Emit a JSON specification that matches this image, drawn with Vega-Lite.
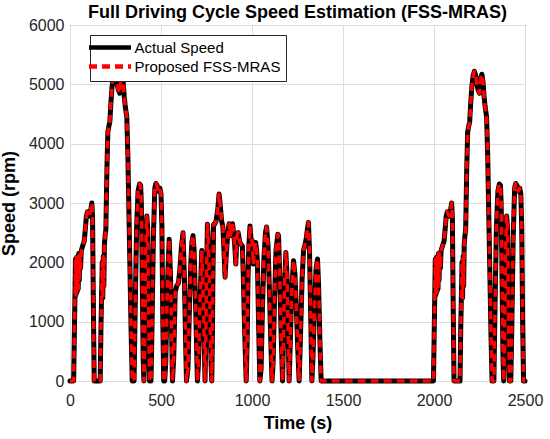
{
  "$schema": "https://vega.github.io/schema/vega-lite/v6.json",
  "width": 455,
  "height": 356,
  "autosize": "none",
  "padding": {"left": 70, "top": 25, "right": 25, "bottom": 58},
  "title": {
    "text": "Full Driving Cycle Speed Estimation (FSS-MRAS)",
    "fontSize": 18, "fontWeight": "bold", "color": "#000000",
    "anchor": "middle", "frame": "group", "offset": 5, "dy": 10
  },
  "data": {"values": [
    {"time": 0, "speed": 0}, {"time": 20, "speed": 0}, {"time": 24, "speed": 800}, {"time": 27, "speed": 1400},
    {"time": 30, "speed": 2050}, {"time": 33, "speed": 1450}, {"time": 36, "speed": 2080}, {"time": 39, "speed": 1500},
    {"time": 42, "speed": 2100}, {"time": 45, "speed": 1550}, {"time": 48, "speed": 2150}, {"time": 51, "speed": 1700},
    {"time": 54, "speed": 2150}, {"time": 58, "speed": 1900}, {"time": 62, "speed": 2200}, {"time": 67, "speed": 2250},
    {"time": 72, "speed": 2300}, {"time": 78, "speed": 2350}, {"time": 84, "speed": 2550}, {"time": 90, "speed": 2780},
    {"time": 96, "speed": 2850}, {"time": 102, "speed": 2800}, {"time": 108, "speed": 2780}, {"time": 114, "speed": 2880},
    {"time": 120, "speed": 3000}, {"time": 124, "speed": 2750}, {"time": 128, "speed": 1400}, {"time": 133, "speed": 0},
    {"time": 166, "speed": 0}, {"time": 170, "speed": 900}, {"time": 174, "speed": 1500}, {"time": 177, "speed": 2000},
    {"time": 180, "speed": 1400}, {"time": 183, "speed": 2100}, {"time": 186, "speed": 1600}, {"time": 189, "speed": 2300},
    {"time": 193, "speed": 2450}, {"time": 197, "speed": 2550}, {"time": 203, "speed": 3600}, {"time": 208, "speed": 4200},
    {"time": 214, "speed": 4300}, {"time": 219, "speed": 4370}, {"time": 225, "speed": 4700}, {"time": 231, "speed": 4960},
    {"time": 238, "speed": 5150}, {"time": 245, "speed": 5220}, {"time": 252, "speed": 5150}, {"time": 259, "speed": 5000},
    {"time": 266, "speed": 4900}, {"time": 273, "speed": 4850}, {"time": 280, "speed": 5100}, {"time": 286, "speed": 5170},
    {"time": 292, "speed": 5050}, {"time": 298, "speed": 4800}, {"time": 304, "speed": 4620}, {"time": 312, "speed": 4450},
    {"time": 318, "speed": 3800}, {"time": 324, "speed": 2800}, {"time": 330, "speed": 1800}, {"time": 336, "speed": 800},
    {"time": 342, "speed": 0}, {"time": 352, "speed": 0}, {"time": 358, "speed": 1200}, {"time": 366, "speed": 2600},
    {"time": 374, "speed": 3200}, {"time": 382, "speed": 3320}, {"time": 388, "speed": 3300}, {"time": 392, "speed": 3000},
    {"time": 396, "speed": 2000}, {"time": 402, "speed": 400}, {"time": 406, "speed": 0}, {"time": 410, "speed": 500},
    {"time": 416, "speed": 2200}, {"time": 422, "speed": 2780}, {"time": 427, "speed": 2600}, {"time": 432, "speed": 1200},
    {"time": 437, "speed": 0}, {"time": 445, "speed": 0}, {"time": 450, "speed": 800}, {"time": 458, "speed": 2400},
    {"time": 466, "speed": 3250}, {"time": 472, "speed": 3330}, {"time": 478, "speed": 3300}, {"time": 486, "speed": 3200},
    {"time": 494, "speed": 3250}, {"time": 500, "speed": 3150}, {"time": 505, "speed": 2600}, {"time": 510, "speed": 1000},
    {"time": 515, "speed": 0}, {"time": 520, "speed": 0}, {"time": 526, "speed": 300}, {"time": 535, "speed": 1600},
    {"time": 545, "speed": 2390}, {"time": 552, "speed": 1800}, {"time": 558, "speed": 900}, {"time": 563, "speed": 0},
    {"time": 570, "speed": 400}, {"time": 578, "speed": 1500}, {"time": 587, "speed": 1610}, {"time": 596, "speed": 1650},
    {"time": 604, "speed": 1900}, {"time": 612, "speed": 2250}, {"time": 621, "speed": 2500}, {"time": 628, "speed": 1800},
    {"time": 635, "speed": 700}, {"time": 640, "speed": 0}, {"time": 648, "speed": 200}, {"time": 656, "speed": 1200},
    {"time": 664, "speed": 2000}, {"time": 670, "speed": 2350}, {"time": 676, "speed": 2450}, {"time": 682, "speed": 2200},
    {"time": 690, "speed": 1300}, {"time": 700, "speed": 0}, {"time": 706, "speed": 300}, {"time": 714, "speed": 1300},
    {"time": 724, "speed": 2200}, {"time": 730, "speed": 1700}, {"time": 737, "speed": 700}, {"time": 742, "speed": 0},
    {"time": 746, "speed": 700}, {"time": 751, "speed": 1900}, {"time": 755, "speed": 2640}, {"time": 760, "speed": 2400},
    {"time": 768, "speed": 1400}, {"time": 775, "speed": 300}, {"time": 779, "speed": 0}, {"time": 782, "speed": 600},
    {"time": 785, "speed": 1700}, {"time": 789, "speed": 2640}, {"time": 796, "speed": 2650}, {"time": 803, "speed": 2700},
    {"time": 812, "speed": 2900}, {"time": 819, "speed": 3150}, {"time": 826, "speed": 2950}, {"time": 833, "speed": 2700},
    {"time": 840, "speed": 2600}, {"time": 846, "speed": 2200}, {"time": 852, "speed": 1750}, {"time": 858, "speed": 2100},
    {"time": 866, "speed": 2450}, {"time": 874, "speed": 2650}, {"time": 880, "speed": 2450}, {"time": 886, "speed": 2500},
    {"time": 893, "speed": 2650}, {"time": 899, "speed": 2500}, {"time": 905, "speed": 2300}, {"time": 911, "speed": 1970},
    {"time": 917, "speed": 2450}, {"time": 924, "speed": 2500}, {"time": 932, "speed": 2350}, {"time": 940, "speed": 2300},
    {"time": 947, "speed": 2280}, {"time": 952, "speed": 1800}, {"time": 960, "speed": 800}, {"time": 968, "speed": 0},
    {"time": 973, "speed": 600}, {"time": 978, "speed": 1700}, {"time": 983, "speed": 2300}, {"time": 989, "speed": 2614},
    {"time": 995, "speed": 2380}, {"time": 1001, "speed": 2370}, {"time": 1007, "speed": 1970}, {"time": 1014, "speed": 2250},
    {"time": 1020, "speed": 2335}, {"time": 1026, "speed": 2200}, {"time": 1030, "speed": 1972}, {"time": 1036, "speed": 1000},
    {"time": 1043, "speed": 0}, {"time": 1050, "speed": 200}, {"time": 1058, "speed": 1300}, {"time": 1066, "speed": 2100},
    {"time": 1074, "speed": 2500}, {"time": 1080, "speed": 2596}, {"time": 1088, "speed": 2300}, {"time": 1096, "speed": 1500},
    {"time": 1103, "speed": 700}, {"time": 1110, "speed": 0}, {"time": 1116, "speed": 300}, {"time": 1124, "speed": 1400},
    {"time": 1132, "speed": 2200}, {"time": 1142, "speed": 2475}, {"time": 1146, "speed": 2450}, {"time": 1152, "speed": 1800},
    {"time": 1160, "speed": 800}, {"time": 1168, "speed": 0}, {"time": 1174, "speed": 900}, {"time": 1180, "speed": 1700},
    {"time": 1186, "speed": 2167}, {"time": 1192, "speed": 1800}, {"time": 1198, "speed": 900}, {"time": 1204, "speed": 0},
    {"time": 1210, "speed": 600}, {"time": 1218, "speed": 1500}, {"time": 1228, "speed": 2028}, {"time": 1236, "speed": 1800},
    {"time": 1244, "speed": 1200}, {"time": 1252, "speed": 500}, {"time": 1259, "speed": 0}, {"time": 1265, "speed": 600},
    {"time": 1275, "speed": 1700}, {"time": 1283, "speed": 2200}, {"time": 1290, "speed": 2280}, {"time": 1298, "speed": 2400},
    {"time": 1304, "speed": 2550}, {"time": 1310, "speed": 2670}, {"time": 1316, "speed": 2200}, {"time": 1322, "speed": 1200},
    {"time": 1329, "speed": 0}, {"time": 1335, "speed": 400}, {"time": 1343, "speed": 1200}, {"time": 1352, "speed": 1900},
    {"time": 1360, "speed": 2056}, {"time": 1366, "speed": 1600}, {"time": 1373, "speed": 700}, {"time": 1380, "speed": 0},
    {"time": 1997, "speed": 0}, {"time": 2001, "speed": 800}, {"time": 2004, "speed": 1400}, {"time": 2007, "speed": 2050},
    {"time": 2010, "speed": 1450}, {"time": 2013, "speed": 2080}, {"time": 2016, "speed": 1500}, {"time": 2019, "speed": 2100},
    {"time": 2022, "speed": 1550}, {"time": 2025, "speed": 2150}, {"time": 2028, "speed": 1700}, {"time": 2031, "speed": 2150},
    {"time": 2035, "speed": 1900}, {"time": 2039, "speed": 2200}, {"time": 2044, "speed": 2250}, {"time": 2049, "speed": 2300},
    {"time": 2055, "speed": 2350}, {"time": 2061, "speed": 2550}, {"time": 2067, "speed": 2780}, {"time": 2073, "speed": 2850},
    {"time": 2079, "speed": 2800}, {"time": 2085, "speed": 2780}, {"time": 2091, "speed": 2880}, {"time": 2097, "speed": 3000},
    {"time": 2101, "speed": 2750}, {"time": 2105, "speed": 1400}, {"time": 2110, "speed": 0}, {"time": 2143, "speed": 0},
    {"time": 2147, "speed": 900}, {"time": 2151, "speed": 1500}, {"time": 2154, "speed": 2000}, {"time": 2157, "speed": 1400},
    {"time": 2160, "speed": 2100}, {"time": 2163, "speed": 1600}, {"time": 2166, "speed": 2300}, {"time": 2170, "speed": 2450},
    {"time": 2174, "speed": 2550}, {"time": 2180, "speed": 3600}, {"time": 2185, "speed": 4200}, {"time": 2191, "speed": 4300},
    {"time": 2196, "speed": 4370}, {"time": 2202, "speed": 4700}, {"time": 2208, "speed": 4960}, {"time": 2215, "speed": 5150},
    {"time": 2222, "speed": 5220}, {"time": 2229, "speed": 5150}, {"time": 2236, "speed": 5000}, {"time": 2243, "speed": 4900},
    {"time": 2250, "speed": 4850}, {"time": 2257, "speed": 5100}, {"time": 2263, "speed": 5170}, {"time": 2269, "speed": 5050},
    {"time": 2275, "speed": 4800}, {"time": 2281, "speed": 4620}, {"time": 2289, "speed": 4450}, {"time": 2295, "speed": 3800},
    {"time": 2301, "speed": 2800}, {"time": 2307, "speed": 1800}, {"time": 2313, "speed": 800}, {"time": 2319, "speed": 0},
    {"time": 2329, "speed": 0}, {"time": 2335, "speed": 1200}, {"time": 2343, "speed": 2600}, {"time": 2351, "speed": 3200},
    {"time": 2359, "speed": 3320}, {"time": 2365, "speed": 3300}, {"time": 2369, "speed": 3000}, {"time": 2373, "speed": 2000},
    {"time": 2379, "speed": 400}, {"time": 2383, "speed": 0}, {"time": 2387, "speed": 500}, {"time": 2393, "speed": 2200},
    {"time": 2399, "speed": 2780}, {"time": 2404, "speed": 2600}, {"time": 2409, "speed": 1200}, {"time": 2414, "speed": 0},
    {"time": 2422, "speed": 0}, {"time": 2427, "speed": 800}, {"time": 2435, "speed": 2400}, {"time": 2443, "speed": 3250},
    {"time": 2449, "speed": 3330}, {"time": 2455, "speed": 3300}, {"time": 2463, "speed": 3200}, {"time": 2471, "speed": 3250},
    {"time": 2477, "speed": 3150}, {"time": 2482, "speed": 2600}, {"time": 2487, "speed": 1000}, {"time": 2492, "speed": 0},
    {"time": 2500, "speed": 0}
  ]},
  "encoding": {
    "x": {
      "field": "time", "type": "quantitative",
      "scale": {"domain": [0, 2500], "nice": false, "zero": false},
      "axis": {"title": "Time (s)", "format": "d", "values": [0, 500, 1000, 1500, 2000, 2500], "labelPadding": 11, "titlePadding": 6}
    },
    "y": {
      "field": "speed", "type": "quantitative",
      "scale": {"domain": [0, 6000], "nice": false},
      "axis": {"title": "Speed (rpm)", "format": "d", "values": [0, 1000, 2000, 3000, 4000, 5000, 6000], "labelPadding": 6, "titlePadding": 10}
    }
  },
  "layer": [
    {
      "mark": {"type": "line", "color": "#000000", "strokeWidth": 5, "strokeJoin": "round", "strokeCap": "round"},
      "encoding": {
        "color": {
          "datum": "Actual Speed", "type": "nominal", "title": null,
          "scale": {"domain": ["Actual Speed", "Proposed FSS-MRAS"], "range": ["#000000", "#ff0000"]}
        },
        "strokeDash": {
          "datum": "Actual Speed", "type": "nominal", "title": null,
          "scale": {"domain": ["Actual Speed", "Proposed FSS-MRAS"], "range": [[1, 0], [8, 5]]}
        }
      }
    },
    {
      "mark": {"type": "line", "strokeWidth": 3.5, "strokeJoin": "round", "strokeCap": "butt"},
      "encoding": {
        "color": {"datum": "Proposed FSS-MRAS", "type": "nominal", "title": null},
        "strokeDash": {"datum": "Proposed FSS-MRAS", "type": "nominal", "title": null}
      }
    }
  ],
  "config": {
    "font": "Liberation Sans",
    "view": {"stroke": "#262626", "strokeWidth": 1},
    "axis": {
      "labelFontSize": 16, "labelColor": "#262626", "labelFlush": false, "labelOverlap": false,
      "titleFontSize": 18, "titleFontWeight": "bold", "titleColor": "#000000",
      "grid": true, "gridColor": "#dedede", "gridWidth": 1,
      "domain": false, "ticks": false
    },
    "legend": {
      "orient": "none", "legendX": 20, "legendY": 10,
      "padding": 5, "strokeColor": "#262626", "fillColor": "#ffffff", "cornerRadius": 0,
      "labelFontSize": 15, "labelColor": "#000000", "labelLimit": 300,
      "rowPadding": 0, "symbolType": "M-4.2,0H4.2", "symbolSize": 100, "symbolStrokeWidth": 4.5,
      "symbolOffset": 7.5, "labelOffset": 17
    }
  }
}
